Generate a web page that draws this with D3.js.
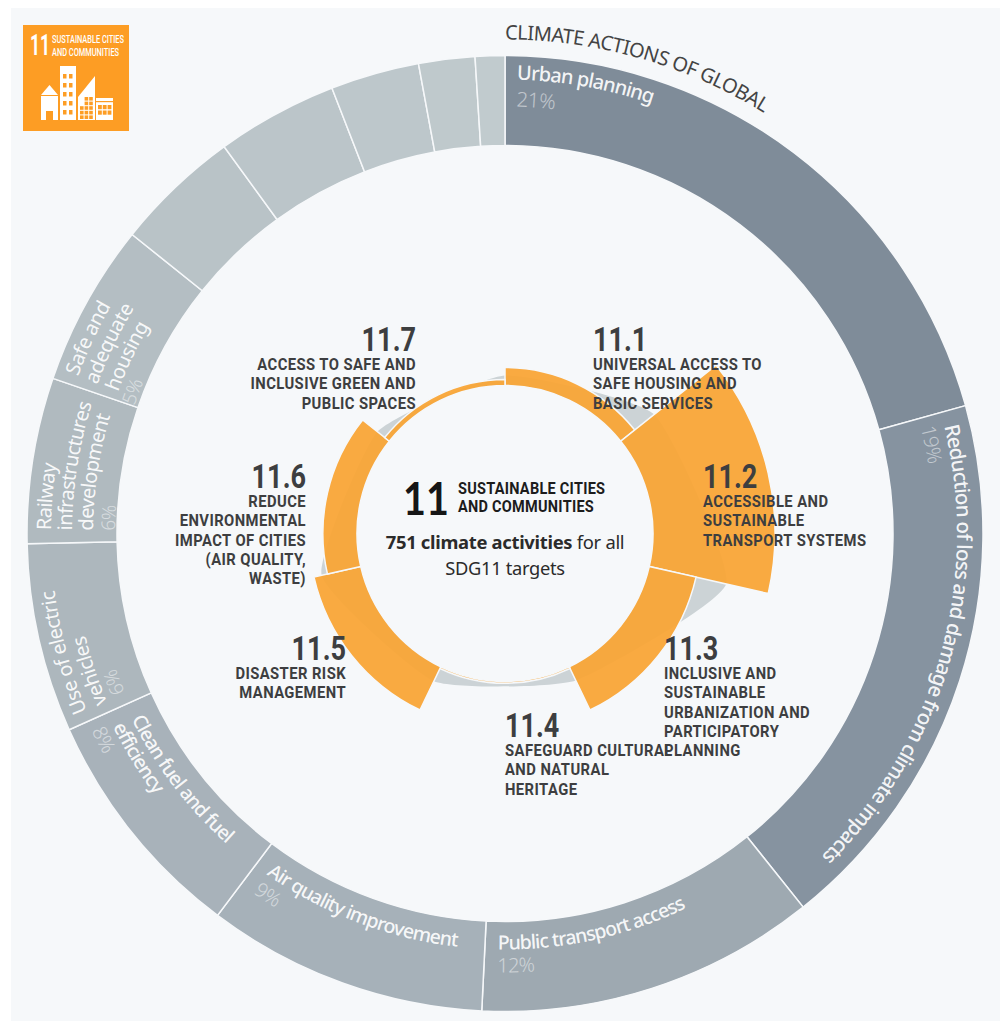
<!DOCTYPE html>
<html>
<head>
<meta charset="utf-8">
<title>SDG 11 climate activities</title>
<script src="https://cdn.jsdelivr.net/npm/d3@7"></script>
<style>
  html, body { margin: 0; padding: 0; background: #fff; }
  svg { display: block; }
  .ring-text { font-family: "Noto Sans", "Lato", sans-serif; }
  .target { font-family: "Roboto", sans-serif; font-weight: 700; fill: #3d3e40; }
</style>
</head>
<body>
<div id="chart"></div>
<script>
(function () {
  // Outer ring: climate actions, share of activities (%)
  const actionNames = [
    "Urban planning", "Reduction of loss", "Public transport access", "Air quality improvement",
    "Clean fuel", "Use of electric vehicles", "Railway infrastructures", "Safe and adequate housing",
    "Other a", "Other b", "Other c", "Other d", "Other e",
  ];
  const actionShares = [20.7, 18.6, 11.5, 9.5, 8, 6.4, 5.6, 5.5, 4.25, 4.1, 3, 1.9, 1];
  const actionColors = [
    "#7f8c99", "#8693a0", "#9ea9b1", "#a6b1b9", "#a8b2ba", "#adb7bd", "#b0babf",
    "#b4bec3", "#b9c3c7", "#bbc5c9", "#bdc7cb", "#bfc9cc", "#c1cbce",
  ];

  // Inner polar chart: activities per target (orange) and reference profile (grey)
  const targets = ["11.1", "11.2", "11.3", "11.4", "11.5", "11.6", "11.7"];
  const targetActivities = [41, 371, 120, 4, 120, 82, 13];
  const referenceActivities = [22, 106, 215, 34, 36, 98, 34];

  const width = 1000;
  const height = 1021;
  const cx = 505;
  const cy = 533.5;
  const ringOuter = 478;
  const ringInner = 388;
  const holeRadius = 148;
  const panelColor = "#f6f8fa";

  const svg = d3.select("#chart").append("svg")
    .attr("width", width)
    .attr("height", height);

  svg.append("rect")
    .attr("x", 11).attr("y", 8)
    .attr("width", width - 11).attr("height", height - 8)
    .attr("fill", panelColor);

  const defs = svg.append("defs");
  const root = svg.append("g").attr("transform", `translate(${cx},${cy})`);

  // Outer ring
  const pie = d3.pie().sort(null).value((d) => d);
  const ringArc = d3.arc().innerRadius(ringInner).outerRadius(ringOuter);

  root.append("g")
    .selectAll("path")
    .data(pie(actionShares))
    .join("path")
    .attr("d", ringArc)
    .attr("fill", (d, i) => actionColors[i])
    .attr("stroke", panelColor)
    .attr("stroke-width", 1.5)
    .append("title")
    .text((d, i) => actionNames[i]);

  // Radial scale: same for orange sectors and the grey profile
  const radius = d3.scaleRadial().domain([0, 371]).range([holeRadius, 270]);
  const sector = d3.scaleBand().domain(targets).range([0, 2 * Math.PI]).padding(0);

  const profile = d3.lineRadial()
    .angle((d, i) => sector(targets[i]))
    .radius((d) => radius(d))
    .curve(d3.curveCardinalClosed.tension(0.55));

  root.append("path")
    .attr("d", profile(referenceActivities))
    .attr("fill", "#ccd3d6");

  const sectorArc = d3.arc()
    .innerRadius(holeRadius)
    .outerRadius((d) => radius(d.value))
    .startAngle((d) => sector(d.target))
    .endAngle((d) => sector(d.target) + sector.bandwidth());

  root.append("g")
    .selectAll("path")
    .data(targets.map((t, i) => ({ target: t, value: targetActivities[i] })))
    .join("path")
    .attr("d", sectorArc)
    .attr("fill", "#f9a535")
    .attr("fill-opacity", 0.94)
    .attr("stroke", panelColor)
    .attr("stroke-width", 1.5);

  root.append("circle").attr("r", holeRadius).attr("fill", panelColor);

  // Text following a circle around the centre. dir 1 = clockwise, -1 = counter-clockwise
  let pathCount = 0;
  function arcText(txt, r, startDeg, dir, size, opts) {
    const o = opts || {};
    const id = "tp" + pathCount++;
    const a0 = (startDeg * Math.PI) / 180;
    const a1 = a0 + (dir * 100 * Math.PI) / 180;
    const p = d3.path();
    p.arc(0, 0, r, a0 - Math.PI / 2, a1 - Math.PI / 2, dir < 0);
    defs.append("path").attr("id", id).attr("d", p.toString());
    root.append("text")
      .attr("class", "ring-text")
      .attr("font-size", size)
      .attr("font-weight", o.weight || 400)
      .attr("fill", o.fill || "#fff")
      .attr("fill-opacity", o.opacity || 0.92)
      .attr("letter-spacing", o.spacing === undefined ? -0.5 : o.spacing)
      .append("textPath")
      .attr("href", "#" + id)
      .text(txt);
  }

  const pct = { weight: 300, opacity: 0.5 };
  const strong = { weight: 500, spacing: -0.9 };

  arcText("CLIMATE ACTIONS OF GLOBAL", 494, 0, 1, 20, { fill: "#444", opacity: 1 });

  arcText("Urban planning", 454, 1.5, 1, 20, strong);
  arcText("21%", 427, 1.5, 1, 20.5, pct);

  arcText("Reduction of loss and damage from climate impacts", 452, 76.3, 1, 20.5, { weight: 500, spacing: -0.85 });
  arcText("19%", 429, 75.7, 1, 20, pct);

  arcText("Public transport access", 416, 181, -1, 19.5, strong);
  arcText("12%", 439, 181, -1, 20, pct);

  arcText("Air quality improvement", 416, 215, -1, 19.5, strong);
  arcText("9%", 439, 215, -1, 20, pct);

  arcText("Clean fuel and fuel", 417, 243.6, -1, 19.5, strong);
  arcText("efficiency", 437, 243.8, -1, 19.5, strong);
  arcText("8%", 458, 244.5, -1, 20, pct);

  arcText("Use of electric", 454, 247, 1, 20);
  arcText("vehicles", 432, 247, 1, 20);
  arcText("6%", 412, 247.4, 1, 19, pct);

  arcText("Railway", 454, 270.4, 1, 20, { spacing: -0.7 });
  arcText("infrastructures", 433, 270.4, 1, 20, { spacing: -0.7 });
  arcText("development", 412, 270.4, 1, 20, { spacing: -0.7 });
  arcText("6%", 390, 270.4, 1, 19, pct);

  arcText("Safe and", 455, 290.2, 1, 20);
  arcText("adequate", 434, 290, 1, 20);
  arcText("housing", 412, 290.1, 1, 20);
  arcText("5%", 392, 289, 1, 19, pct);

  // Condensed look: Roboto squeezed horizontally
  function target(x, y, txt, size, anchor, sx) {
    svg.append("text")
      .attr("class", "target")
      .attr("transform", `translate(${x},${y}) scale(${sx},1)`)
      .attr("text-anchor", anchor)
      .attr("font-size", size)
      .attr("letter-spacing", size > 20 ? 0 : 0.5)
      .text(txt);
  }

  function targetBlock(x, y, num, lines, anchor) {
    target(x, y, num, 33, anchor, 0.82);
    lines.forEach((l, i) => target(x, y + 19.2 + i * 19.2, l, 17, anchor, 0.87));
  }

  targetBlock(593, 351, "11.1", ["UNIVERSAL ACCESS TO", "SAFE HOUSING AND", "BASIC SERVICES"], "start");
  targetBlock(703, 488, "11.2", ["ACCESSIBLE AND", "SUSTAINABLE", "TRANSPORT SYSTEMS"], "start");
  targetBlock(664, 660, "11.3", ["INCLUSIVE AND", "SUSTAINABLE", "URBANIZATION AND", "PARTICIPATORY", "PLANNING"], "start");
  targetBlock(505, 737, "11.4", ["SAFEGUARD CULTURAL", "AND NATURAL", "HERITAGE"], "start");
  targetBlock(346, 660, "11.5", ["DISASTER RISK", "MANAGEMENT"], "end");
  targetBlock(306, 488, "11.6", ["REDUCE", "ENVIRONMENTAL", "IMPACT OF CITIES", "(AIR QUALITY,", "WASTE)"], "end");
  targetBlock(416, 351, "11.7", ["ACCESS TO SAFE AND", "INCLUSIVE GREEN AND", "PUBLIC SPACES"], "end");

  // Centre text
  svg.append("text")
    .attr("transform", "translate(403,515) scale(0.86,1)")
    .attr("font-family", "Lato, sans-serif").attr("font-weight", 700)
    .attr("font-size", 46).attr("fill", "#161616")
    .text("11");
  [["SUSTAINABLE CITIES", 494], ["AND COMMUNITIES", 512]].forEach(([t, y]) => {
    svg.append("text")
      .attr("transform", `translate(458,${y}) scale(0.88,1)`)
      .attr("font-family", "Roboto, sans-serif").attr("font-weight", 700)
      .attr("font-size", 16.5).attr("fill", "#1c1c1c").attr("letter-spacing", 0.3)
      .text(t);
  });
  const centre = svg.append("text")
    .attr("x", cx).attr("y", 549)
    .attr("text-anchor", "middle")
    .attr("font-family", "Noto Sans, sans-serif").attr("font-size", 18.4).attr("fill", "#2b2b2b")
    .attr("letter-spacing", -0.3);
  centre.append("tspan").attr("font-weight", 700).text("751 climate activities");
  centre.append("tspan").text(" for all");
  svg.append("text")
    .attr("x", cx).attr("y", 575)
    .attr("text-anchor", "middle")
    .attr("font-family", "Noto Sans, sans-serif").attr("font-size", 18.3).attr("fill", "#2b2b2b")
    .attr("letter-spacing", -0.3)
    .text("SDG11 targets");

  // SDG 11 badge
  const badge = svg.append("g").attr("transform", "translate(23,25)");
  badge.append("rect").attr("width", 106).attr("height", 106).attr("fill", "#fd9d24");
  badge.append("text")
    .attr("transform", "translate(7,30) scale(0.58,1)")
    .attr("font-family", "Roboto, sans-serif").attr("font-weight", 700)
    .attr("font-size", 30).attr("fill", "#fff").text("11");
  [["SUSTAINABLE CITIES", 18], ["AND COMMUNITIES", 31]].forEach(([t, y]) => {
    badge.append("text")
      .attr("transform", `translate(29,${y}) scale(0.645,1)`)
      .attr("font-family", "Roboto, sans-serif").attr("font-weight", 500)
      .attr("font-size", 11.5).attr("fill", "#fff").text(t);
  });
  const icon = badge.append("g").attr("fill", "#fff");
  // house
  icon.append("path").attr("d", "M18 70 L26.5 60 L35 70 Z");
  icon.append("path").attr("d", "M18 71 H35 V95 H30 V86 H23 V95 H18 Z");
  // tower
  icon.append("rect").attr("x", 37).attr("y", 41).attr("width", 16).attr("height", 54);
  const windows = badge.append("g").attr("fill", "#fd9d24");
  d3.range(5).forEach((row) => {
    [0, 1].forEach((col) => {
      windows.append("rect")
        .attr("x", 40 + col * 6).attr("y", 49 + row * 9)
        .attr("width", 3.5).attr("height", 4.5);
    });
  });
  // slanted block
  icon.append("path").attr("d", "M55 95 V72 L72 51 V95 Z");
  d3.range(5).forEach((row) => {
    [0, 1, 2].forEach((col) => {
      if (row < 2 && col === 0) return;
      windows.append("rect")
        .attr("x", 57 + col * 4.6).attr("y", 72 + row * 4.6)
        .attr("width", 3.6).attr("height", 3.6);
    });
  });
  // low block
  icon.append("rect").attr("x", 73).attr("y", 73).attr("width", 17).attr("height", 22);
  windows.append("rect").attr("x", 73).attr("y", 76).attr("width", 17).attr("height", 1.2);
  d3.range(2).forEach((row) => {
    [0, 1, 2].forEach((col) => {
      windows.append("rect")
        .attr("x", 75 + col * 4.8).attr("y", 80 + row * 5.5)
        .attr("width", 3.8).attr("height", 4.2);
    });
  });
})();
</script>
</body>
</html>
